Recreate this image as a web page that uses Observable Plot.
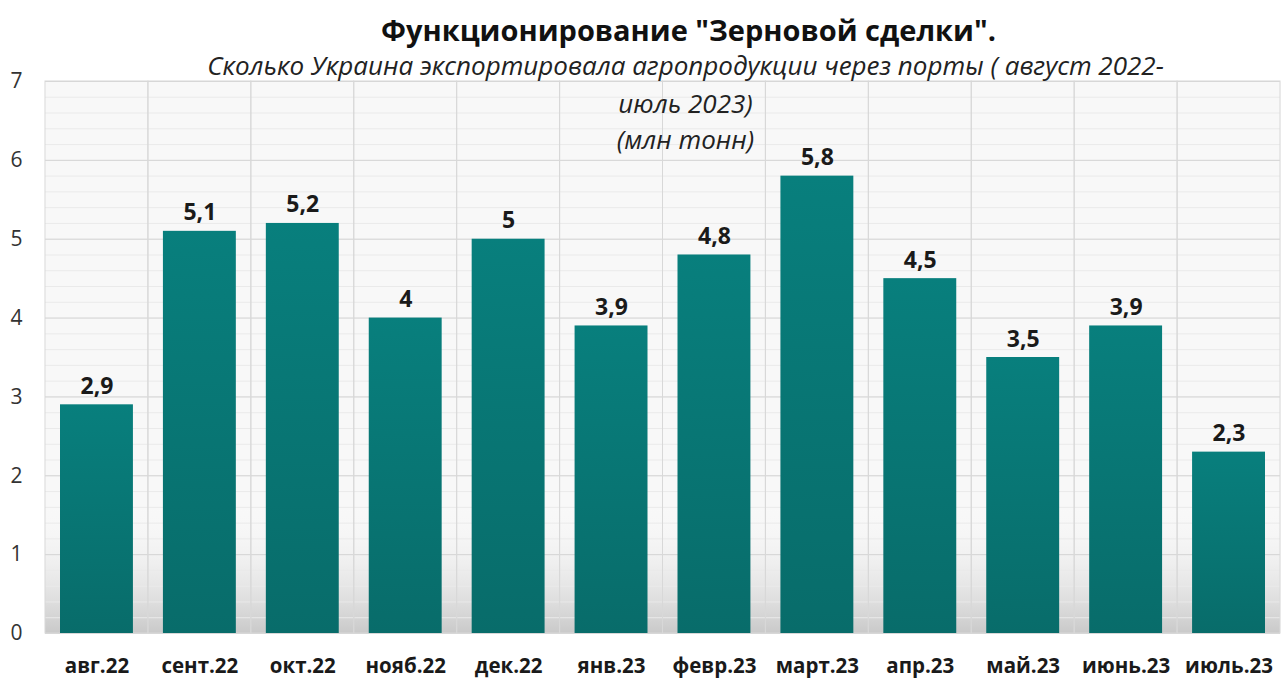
<!DOCTYPE html>
<html>
<head>
<meta charset="utf-8">
<script src="https://cdn.jsdelivr.net/npm/d3@7"></script>
<script src="https://cdn.jsdelivr.net/npm/@observablehq/plot@0.6"></script>
<style>
  html, body { margin: 0; padding: 0; background: #ffffff; }
  #wrap { position: relative; width: 1285px; height: 680px; font-family: "Open Sans", sans-serif; }
  .t { position: absolute; left: 0; width: 1285px; text-align: center; color: #111; white-space: nowrap; }
  #title { top: 10px; font-size: 29px; font-weight: 700; left: 46px; }
  .sub { font-size: 26px; font-style: italic; color: #222; left: 43px; }
</style>
</head>
<body>
<div id="wrap">
  <div id="chart"></div>
  <div id="title" class="t">Функционирование "Зерновой сделки".</div>
  <div class="t sub" style="top:47px">Сколько Украина экспортировала агропродукции через порты ( август 2022-</div>
  <div class="t sub" style="top:85px">июль 2023)</div>
  <div class="t sub" style="top:121px">(млн тонн)</div>
</div>
<script>
const months = ["авг.22","сент.22","окт.22","нояб.22","дек.22","янв.23","февр.23","март.23","апр.23","май.23","июнь.23","июль.23"];
const values = [2.9, 5.1, 5.2, 4, 5, 3.9, 4.8, 5.8, 4.5, 3.5, 3.9, 2.3];
const yTicks = [0, 1, 2, 3, 4, 5, 6, 7];

const data = months.map((m, i) => ({month: m, value: values[i]}));
const fmt = v => String(v).replace(".", ",");

const chart = Plot.plot({
  width: 1285,
  height: 680,
  marginTop: 81,
  marginBottom: 47,
  marginLeft: 45,
  marginRight: 5,
  style: {fontFamily: "Open Sans, sans-serif", background: "transparent"},
  x: {domain: months, padding: 0, round: false, label: null},
  y: {domain: [0, 7], label: null},
  marks: [
    Plot.frame({fill: "#f8f8f8", stroke: "none"}),
    Plot.rectY([{y1: 0, y2: 1.7}], {y1: "y1", y2: "y2", x1: () => months[0], x2: () => months[11], fill: "url(#shadeGrad)"}),
    Plot.gridY(d3.range(0, 7.01, 0.2).map(d => +d.toFixed(1)), {stroke: "#eaeaea", strokeOpacity: 1}),
    Plot.gridY(yTicks, {stroke: "#d6d6d6", strokeOpacity: 1}),
    Plot.barY(months, {x: d => d, y: 7, fill: "none", stroke: "#d8d8d8"}),
    Plot.barY(data, {x: "month", y: "value", fill: "url(#barGrad)", insetLeft: 15, insetRight: 15}),
    Plot.text(data, {x: "month", y: "value", text: d => fmt(d.value), lineAnchor: "bottom", dy: -11, fontSize: 23, fontWeight: "bold", fill: "#1a1a1a"}),
    Plot.axisY(yTicks, {tickSize: 0, tickPadding: 23, tickFormat: "d", fontSize: 21, fill: "#333", textAnchor: "end"}),
    Plot.axisX({tickSize: 0, tickPadding: 25, fontSize: 20.5, fontWeight: "bold", fill: "#1a1a1a"})
  ]
});

const svg = d3.select(chart);
const defs = svg.insert("defs", ":first-child");
const g = defs.append("linearGradient").attr("id", "barGrad").attr("x1", 0).attr("y1", 0).attr("x2", 0).attr("y2", 1);
g.append("stop").attr("offset", "0%").attr("stop-color", "#087f7d");
g.append("stop").attr("offset", "100%").attr("stop-color", "#086c6a");
const s = defs.append("linearGradient").attr("id", "shadeGrad").attr("x1", 0).attr("y1", 0).attr("x2", 0).attr("y2", 1);
s.append("stop").attr("offset", "0%").attr("stop-color", "#ffffff").attr("stop-opacity", 0);
s.append("stop").attr("offset", "100%").attr("stop-color", "#c4c4c4").attr("stop-opacity", 0.9);

document.getElementById("chart").appendChild(chart);
</script>
</body>
</html>
